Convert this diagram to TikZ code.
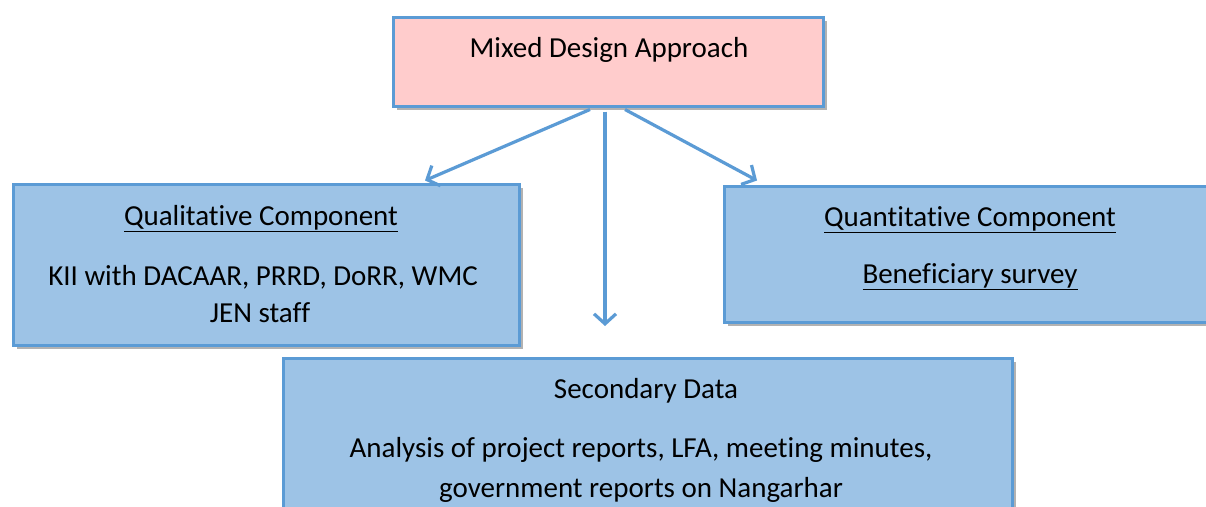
\documentclass[tikz,border=0pt]{standalone}
\usepackage{fontspec}
\setmainfont[Ligatures=NoCommon]{Carlito}
\usetikzlibrary{arrows.meta,shadows}
\definecolor{bord}{HTML}{5B9BD5}
\definecolor{bluefill}{HTML}{9DC3E6}
\definecolor{pinkfill}{HTML}{FFCCCC}
\begin{document}
\begin{tikzpicture}[x=1pt,y=-1pt,
 box/.style={draw=bord,line width=3pt,rectangle,inner sep=0pt,
   drop shadow={shadow xshift=4pt,shadow yshift=-4pt,opacity=0.3,fill=black}},
 txt/.style={anchor=base,inner sep=0pt,font=\fontsize{29}{35}\selectfont},
 arr/.style={draw=bord,line width=3.2pt,-{Straight Barb[length=10pt,width=22pt]}}]
\useasboundingbox (0,0) rectangle (1206,506);
\clip (0,0) rectangle (1206,506);
\fill[white] (0,0) rectangle (1206,506);
\node[box,fill=pinkfill,minimum width=430pt,minimum height=89pt] (top) at (608,61.5) {};
\node[box,fill=bluefill,minimum width=506pt,minimum height=161pt] (qual) at (266,264.5) {};
\node[box,fill=bluefill,minimum width=488pt,minimum height=136pt] (quant) at (968,254) {};
\node[box,fill=bluefill,minimum width=729pt,minimum height=164pt] (sec) at (647.5,440) {};

\node[txt] (tTop) at (609,57) {Mixed Design Approach};
\node[txt] (tQual) at (261,225) {\underline{Qualitative Component}};
\node[txt] (tKII) at (263,285) {KII with DACAAR, PRRD, DoRR, WMC};
\node[txt] (tJEN) at (260,322) {JEN staff};
\node[txt] (tQuant) at (970,226) {\underline{Quantitative Component}};
\node[txt] (tBen) at (970,283) {\underline{Beneficiary survey}};
\node[txt] (tSec) at (646,398) {Secondary Data};
\node[txt] (tAna) at (641,457) {Analysis of project reports, LFA, meeting minutes,};
\node[txt] (tGov) at (641,497) {government reports on Nangarhar};

\coordinate (midEnd) at (605,326);
\draw[arr] ([xshift=-18pt,yshift=-2pt]top.south) -- ([xshift=159pt,yshift=2pt]qual.north);
\draw[arr] ([xshift=-3pt,yshift=-4pt]top.south) -- (midEnd);
\draw[arr] ([xshift=17pt,yshift=-2pt]top.south) -- ([xshift=-211pt,yshift=4pt]quant.north);
\end{tikzpicture}
\end{document}
